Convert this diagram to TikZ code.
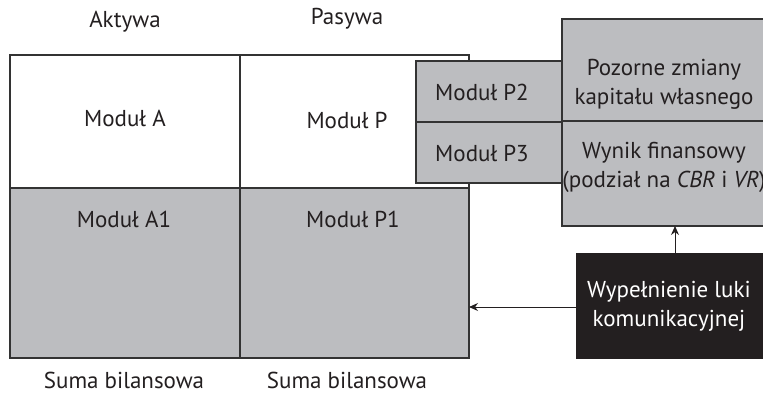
\documentclass[tikz,border=0pt]{standalone}
\usepackage{fontspec}
\setmainfont{PT Sans}
\usetikzlibrary{arrows.meta}
\definecolor{boxgray}{HTML}{BCBDC0}
\definecolor{boxdark}{HTML}{231F20}
\definecolor{edge}{HTML}{333333}
\begin{document}
\begin{tikzpicture}[x=1pt,y=-1pt,
  lbl/.style={font=\fontsize{23}{29}\selectfont, text=boxdark, align=center},
  cell/.style={draw=edge, line width=1.1pt},
  arr/.style={draw=boxdark, line width=1pt, -{Stealth[length=9pt,width=8pt]}}]
\useasboundingbox (0,0) rectangle (763,393);
\clip (0,0) rectangle (763,393);
% main table
\fill[white] (10,55) rectangle (469,188);
\fill[boxgray] (10,188) rectangle (469,358);
\draw[cell] (10,55) rectangle (469,358);
\draw[cell] (240,55) -- (240,358);
\draw[cell] (10,188) -- (469,188);
\coordinate (mainright) at (469,307);
% P2/P3 box
\draw[cell, fill=boxgray] (416,61) rectangle (562,183);
\draw[cell] (416,122) -- (562,122);
% right box
\draw[cell, fill=boxgray] (562,19) rectangle (775,226);
\draw[cell] (562,121) -- (775,121);
\coordinate (rbottom) at (675,226);
% black box
\node[fill=boxdark, minimum width=200pt, minimum height=106pt, anchor=north west, inner sep=0pt] (blk) at (576,253) {};
\node[lbl, text=white] at (669,306) {Wypełnienie luki\\komunikacyjnej};
% labels
\node[lbl] (akt) at (125,22) {Aktywa};
\node[lbl] (pas) at (347,19) {Pasywa};
\node[lbl] (ma) at (125,118) {Moduł A};
\node[lbl] (mp) at (347,120) {Moduł P};
\node[lbl] (ma1) at (124,219) {Moduł A1};
\node[lbl] (mp1) at (353,219) {Moduł P1};
\node[lbl] (mp2) at (482,92) {Moduł P2};
\node[lbl] (mp3) at (482,153) {Moduł P3};
\node[lbl] (poz) at (664,84) {Pozorne zmiany\\kapitału własnego};
\node[lbl] (wyn) at (664,167) {Wynik finansowy\\(podział na \textit{CBR} i \textit{VR})};
\node[lbl] (s1) at (124,380) {Suma bilansowa};
\node[lbl] (s2) at (347,380) {Suma bilansowa};
% arrows
\coordinate (blktop) at (675,253);
\coordinate (blkleft) at (576,307);
\draw[arr] (blktop) -- (rbottom);
\draw[arr] (blkleft) -- (mainright);
\end{tikzpicture}
\end{document}
